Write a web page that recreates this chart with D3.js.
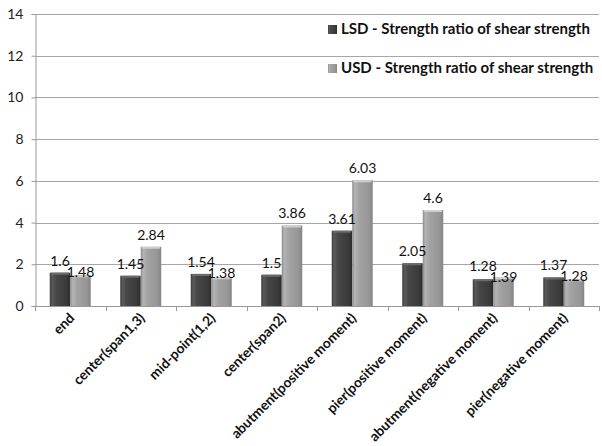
<!DOCTYPE html>
<html>
<head>
<meta charset="utf-8">
<script src="https://cdn.jsdelivr.net/npm/d3@7"></script>
<style>
  html, body { margin: 0; padding: 0; background: #fff; }
  svg { display: block; }
</style>
</head>
<body>
<svg id="chart" width="602" height="446"></svg>
<script>
// Locations along the bridge
const categories = [
  "end", "center(span1,3)", "mid-point(1,2)", "center(span2)",
  "abutment(positive moment)", "pier(positive moment)",
  "abutment(negative moment)", "pier(negative moment)"
];
// Strength ratio of shear strength
const lsdValues = [1.6, 1.45, 1.54, 1.5, 3.61, 2.05, 1.28, 1.37];
const usdValues = [1.48, 2.84, 1.38, 3.86, 6.03, 4.6, 1.39, 1.28];
const seriesNames = [
  "LSD - Strength ratio of shear strength",
  "USD - Strength ratio of shear strength"
];
const yTicks = [0, 2, 4, 6, 8, 10, 12, 14];

const svg = d3.select("#chart");
const margin = { left: 35, right: 3, top: 14, bottom: 140 };
const W = 602, H = 446;
const x0 = margin.left, x1 = W - margin.right;
const yBottom = H - margin.bottom, yTop = margin.top;

const font = "Lato, 'Open Sans', sans-serif";

const x = d3.scaleBand().domain(categories).range([x0, x1]).paddingInner(0).paddingOuter(0);
const y = d3.scaleLinear().domain([0, 14]).range([yBottom, yTop]);
const xs = d3.scaleBand().domain([0, 1]).range([0, x.bandwidth()]).paddingInner(0).paddingOuter(0.72);

// gradients giving the bars a rounded, shaded look
const defs = svg.append("defs");
function grad(id, stops) {
  const g = defs.append("linearGradient").attr("id", id)
    .attr("x1", "0%").attr("x2", "100%").attr("y1", "0%").attr("y2", "0%");
  stops.forEach(([o, c]) => g.append("stop").attr("offset", o).attr("stop-color", c));
}
grad("gLSD", [["0%", "#3a3a3a"], ["12%", "#5a5a5a"], ["30%", "#474747"], ["80%", "#3b3b3b"], ["100%", "#2c2c2c"]]);
grad("gUSD", [["0%", "#8a8a8a"], ["12%", "#b4b4b4"], ["35%", "#a2a2a2"], ["80%", "#979797"], ["100%", "#858585"]]);
const fills = ["url(#gLSD)", "url(#gUSD)"];
const caps = ["#6a6a6a", "#cfcfcf"];

// gridlines
svg.append("g").selectAll("line").data(yTicks.filter(d => d > 0)).join("line")
  .attr("x1", x0).attr("x2", x1)
  .attr("y1", d => Math.round(y(d)) + 0.5).attr("y2", d => Math.round(y(d)) + 0.5)
  .attr("stroke", "#a6a6a6").attr("stroke-width", 1);

// y axis
const yAxis = svg.append("g").attr("transform", `translate(${x0 + 0.5},0)`)
  .call(d3.axisLeft(y).tickValues(yTicks).tickSize(4).tickPadding(8));
yAxis.select(".domain").attr("stroke", "#999");
yAxis.selectAll(".tick line").attr("stroke", "#999");
yAxis.selectAll(".tick text").attr("font-family", font).attr("font-size", 14).attr("fill", "#222");

// bars
const series = [lsdValues, usdValues];
const groups = svg.append("g").selectAll("g").data(categories).join("g")
  .attr("transform", d => `translate(${x(d)},0)`);
groups.each(function (cat, i) {
  const g = d3.select(this);
  series.forEach((vals, s) => {
    const v = vals[i];
    const bx = xs(s), bw = xs.bandwidth();
    g.append("rect").attr("x", bx).attr("y", y(v)).attr("width", bw)
      .attr("height", y(0) - y(v)).attr("fill", fills[s]);
    g.append("rect").attr("x", bx + 1).attr("y", y(v)).attr("width", bw - 2)
      .attr("height", 2).attr("fill", caps[s]).attr("rx", 1);
  });
});

// x axis
svg.append("line").attr("x1", x0).attr("x2", x1)
  .attr("y1", Math.round(y(0)) + 0.5).attr("y2", Math.round(y(0)) + 0.5)
  .attr("stroke", "#999");
const bounds = categories.map(c => x(c)).concat([x1]);
svg.append("g").selectAll("line").data(bounds).join("line")
  .attr("x1", d => Math.round(d) + 0.5).attr("x2", d => Math.round(d) + 0.5)
  .attr("y1", Math.round(y(0))).attr("y2", Math.round(y(0)) + 5)
  .attr("stroke", "#999");

// category labels, rotated
svg.append("g").selectAll("text").data(categories).join("text")
  .attr("transform", d => `translate(${x(d) + x.bandwidth() / 2 + 5},${y(0) + 13}) rotate(-45)`)
  .attr("text-anchor", "end")
  .attr("font-family", font).attr("font-weight", "bold").attr("font-size", 13.8)
  .attr("fill", "#111")
  .text(d => d);

// value labels; when the pair would collide, keep the LSD label above and push the USD one down
const labelData = [];
categories.forEach((cat, i) => {
  const cx = s => x(cat) + xs(s) + xs.bandwidth() / 2;
  let yl = y(lsdValues[i]) - 7;
  let yu = y(usdValues[i]) - 7;
  if (Math.abs(yl - yu) < 13) {
    yl = Math.min(yl, yu + 1);
    yu = Math.max(yu, yl + 11);
  }
  labelData.push({ x: cx(0), y: yl, t: lsdValues[i] });
  labelData.push({ x: cx(1), y: yu, t: usdValues[i] });
});
svg.append("g").selectAll("text").data(labelData).join("text")
  .attr("x", d => d.x).attr("y", d => d.y)
  .attr("text-anchor", "middle")
  .attr("font-family", font).attr("font-size", 14).attr("fill", "#111")
  .text(d => String(d.t));

// legend
const legend = svg.append("g").selectAll("g").data(seriesNames).join("g")
  .attr("transform", (d, i) => `translate(328,${29 + i * 39})`);
legend.append("rect").attr("x", 0).attr("y", -4).attr("width", 9).attr("height", 9)
  .attr("fill", (d, i) => fills[i]);
legend.append("text").attr("x", 13).attr("y", 5)
  .attr("font-family", font).attr("font-weight", "bold").attr("font-size", 15)
  .attr("fill", "#111")
  .text(d => d);
</script>
</body>
</html>
